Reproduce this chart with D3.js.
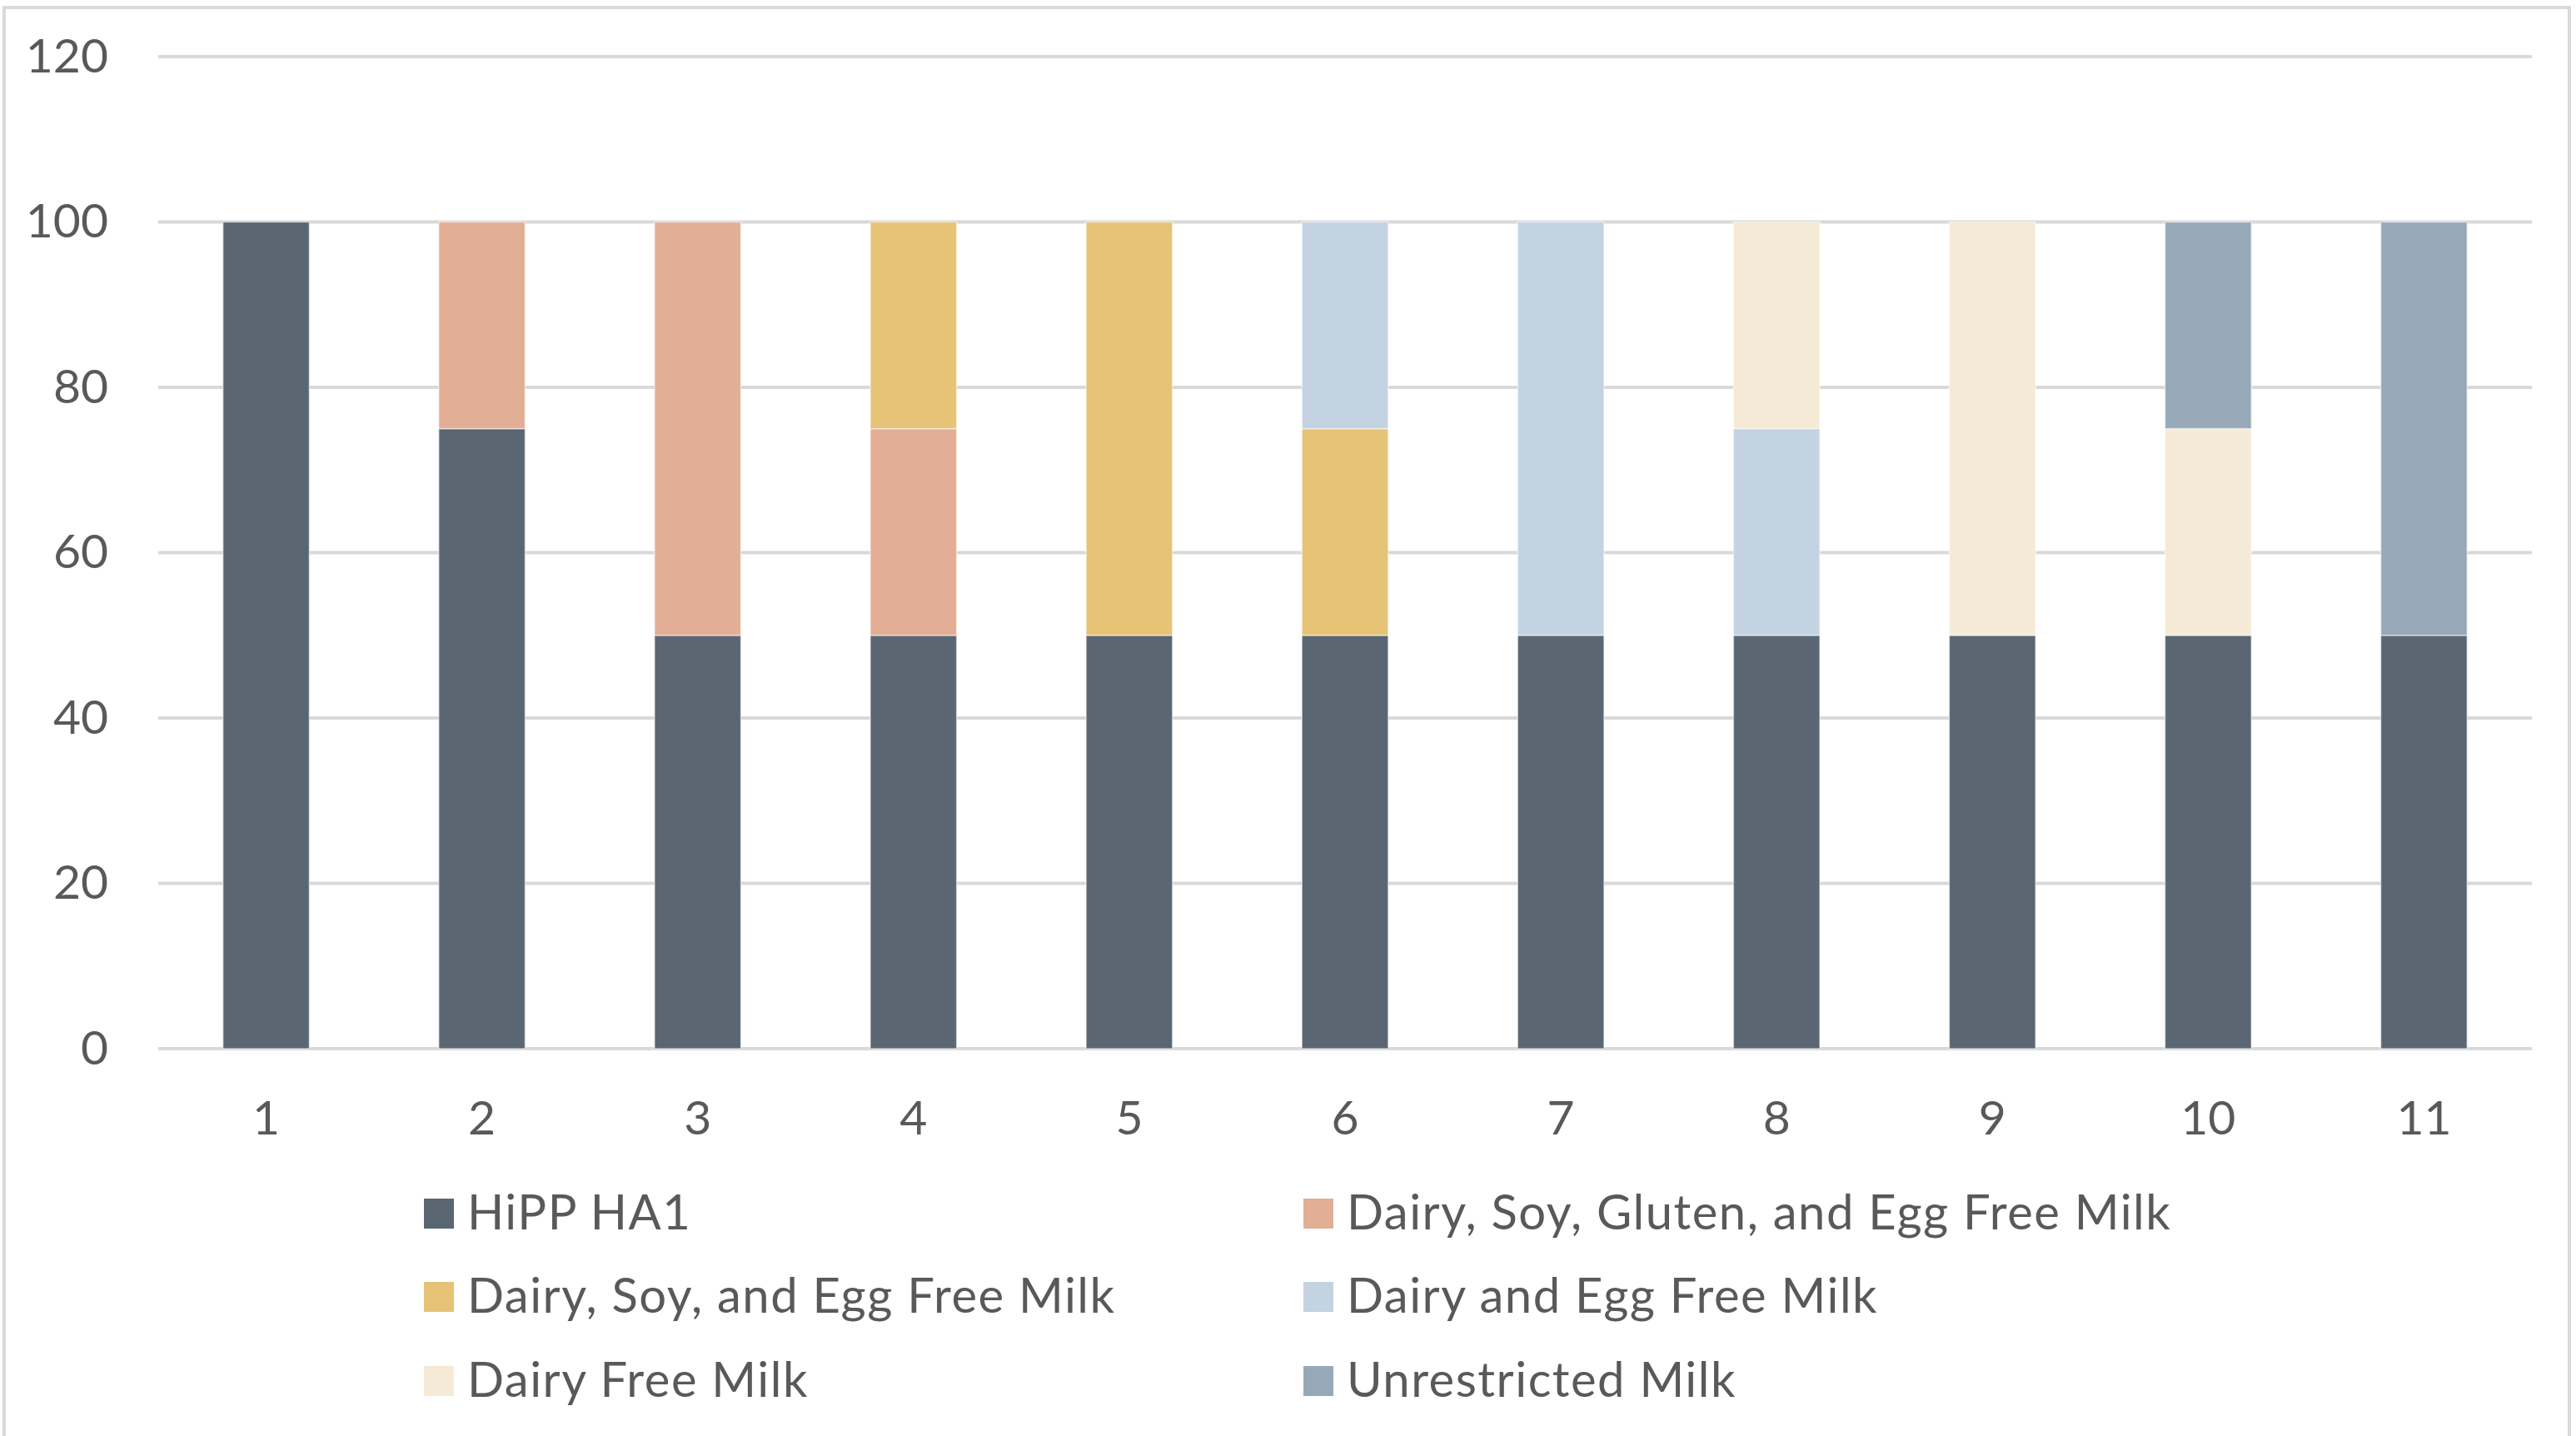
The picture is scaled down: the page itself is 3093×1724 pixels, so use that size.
<!DOCTYPE html>
<html>
<head>
<meta charset="utf-8">
<script src="https://cdn.jsdelivr.net/npm/d3@7"></script>
<style>
  html, body { margin: 0; padding: 0; background: #ffffff; }
  svg { display: block; }
  text { font-family: Lato, "Open Sans", sans-serif; fill: #595959; }
</style>
</head>
<body>
<svg id="chart" width="3093" height="1724"></svg>
<script>
// Categories along the x axis
const categories = ["1", "2", "3", "4", "5", "6", "7", "8", "9", "10", "11"];

// Series names, stacked bottom to top
const seriesNames = [
  "HiPP HA1",
  "Dairy, Soy, Gluten, and Egg Free Milk",
  "Dairy, Soy, and Egg Free Milk",
  "Dairy and Egg Free Milk",
  "Dairy Free Milk",
  "Unrestricted Milk"
];

// Values per series, one per category
const hippHA1        = [100, 75, 50, 50, 50, 50, 50, 50, 50, 50, 50];
const dairySoyGluten = [  0, 25, 50, 25,  0,  0,  0,  0,  0,  0,  0];
const dairySoyEgg    = [  0,  0,  0, 25, 50, 25,  0,  0,  0,  0,  0];
const dairyEgg       = [  0,  0,  0,  0,  0, 25, 50, 25,  0,  0,  0];
const dairyFree      = [  0,  0,  0,  0,  0,  0,  0, 25, 50, 25,  0];
const unrestricted   = [  0,  0,  0,  0,  0,  0,  0,  0,  0, 25, 50];

// Y axis tick values
const yTicks = [0, 20, 40, 60, 80, 100, 120];

const colors = ["#5A6772", "#E2AE95", "#E6C377", "#C3D3E2", "#F5EAD6", "#97A9B8"];

const seriesValues = [hippHA1, dairySoyGluten, dairySoyEgg, dairyEgg, dairyFree, unrestricted];
const rows = categories.map((c, i) => {
  const r = { category: c };
  seriesNames.forEach((s, k) => { r[s] = seriesValues[k][i]; });
  return r;
});

const svg = d3.select("#chart");

// Outer chart frame
svg.append("rect")
  .attr("x", 5).attr("y", 9)
  .attr("width", 3080).attr("height", 1760)
  .attr("fill", "none")
  .attr("stroke", "#D9D9D9")
  .attr("stroke-width", 4);

const plotLeft = 190, plotRight = 3040;
const x = d3.scaleBand()
  .domain(categories)
  .range([plotLeft, plotRight])
  .paddingInner(0.6)
  .paddingOuter(0.3);

const y = d3.scaleLinear()
  .domain([0, 120])
  .range([1259, 68]);

// Horizontal gridlines
svg.append("g")
  .selectAll("line")
  .data(yTicks)
  .join("line")
  .attr("x1", plotLeft).attr("x2", plotRight)
  .attr("y1", d => y(d)).attr("y2", d => y(d))
  .attr("stroke", "#D9D9D9")
  .attr("stroke-width", 4);

// Y axis labels
const yAxis = d3.axisLeft(y).tickValues(yTicks).tickSize(0).tickPadding(0);
svg.append("g")
  .attr("transform", "translate(130,0)")
  .call(yAxis)
  .call(g => g.select(".domain").remove())
  .selectAll("text")
  .attr("font-family", "Lato, 'Open Sans', sans-serif")
  .attr("font-size", 57)
  .attr("fill", "#595959")
  .attr("dy", "0.32em");

// Stacked bars
const stack = d3.stack().keys(seriesNames);
const stacked = stack(rows);

svg.append("g")
  .selectAll("g")
  .data(stacked)
  .join("g")
  .attr("fill", (d, i) => colors[i])
  .selectAll("rect")
  .data(d => d.filter(p => p[1] - p[0] > 0))
  .join("rect")
  .attr("x", d => x(d.data.category))
  .attr("width", x.bandwidth())
  .attr("y", d => y(d[1]))
  .attr("height", d => y(d[0]) - y(d[1]))
  .attr("stroke", "#ffffff")
  .attr("stroke-opacity", 0.5)
  .attr("stroke-width", 1.5);

// X axis labels
const xAxis = d3.axisBottom(x).tickSize(0).tickPadding(0);
svg.append("g")
  .attr("transform", "translate(0,1362)")
  .call(xAxis)
  .call(g => g.select(".domain").remove())
  .selectAll("text")
  .attr("font-family", "Lato, 'Open Sans', sans-serif")
  .attr("font-size", 57)
  .attr("fill", "#595959")
  .attr("dy", 0)
  .attr("y", 0);

// Legend: two columns, three rows
const legendCols = [509, 1565];
const legendRows = [1457, 1557, 1658];
const swatch = 36;
const legend = svg.append("g")
  .selectAll("g")
  .data(seriesNames)
  .join("g")
  .attr("transform", (d, i) => `translate(${legendCols[i % 2]},${legendRows[Math.floor(i / 2)]})`);

legend.append("rect")
  .attr("x", 0).attr("y", -swatch / 2)
  .attr("width", swatch).attr("height", swatch)
  .attr("fill", (d, i) => colors[i]);

legend.append("text")
  .attr("x", 52)
  .attr("y", 19)
  .attr("font-size", 58)
  .attr("letter-spacing", 1.5)
  .text(d => d);
</script>
</body>
</html>
